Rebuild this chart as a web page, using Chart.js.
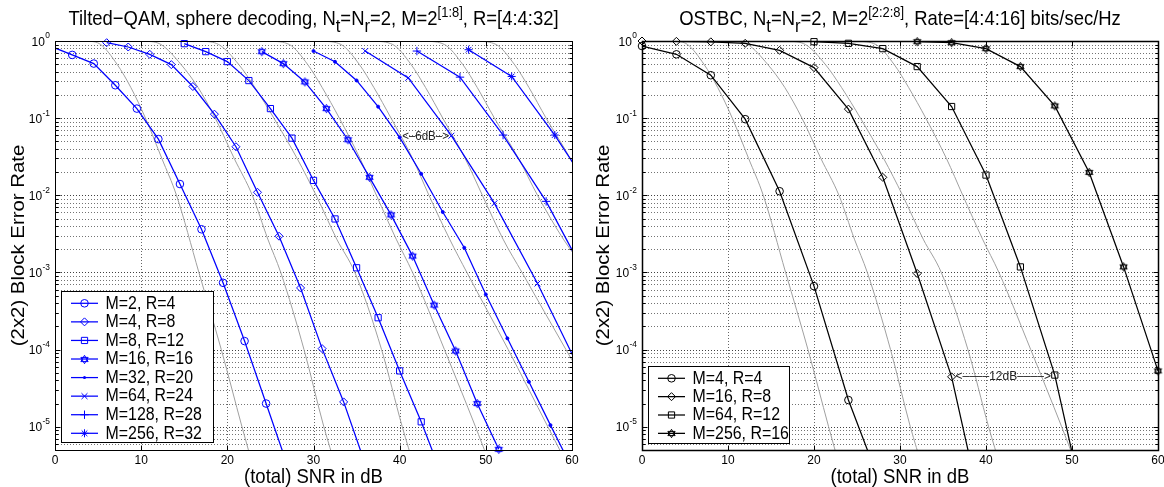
<!DOCTYPE html>
<html><head><meta charset="utf-8">
<script src="https://cdn.jsdelivr.net/npm/chart.js@4.4.1/dist/chart.umd.min.js"></script>
<style>
html,body{margin:0;padding:0;background:#fff;}
#wrap{position:relative;width:1164px;height:487px;overflow:hidden;background:#fff;}
canvas{position:absolute;top:0;}
</style></head><body>
<div id="wrap"><canvas id="cL" width="582" height="487" style="left:0"></canvas><canvas id="cR" width="582" height="487" style="left:582px"></canvas></div>
<script>
// ================= DATA =================
const xTickValues = [0, 10, 20, 30, 40, 50, 60];
const yTickExponents = [0, -1, -2, -3, -4, -5];

// ---- Left: Tilted-QAM, sphere decoding ----
const leftLabels = ['M=2, R=4', 'M=4, R=8', 'M=8, R=12', 'M=16, R=16', 'M=32, R=20', 'M=64, R=24', 'M=128, R=28', 'M=256, R=32'];
const snrM2 = [-0.5, 2, 4.5, 7, 9.5, 12, 14.5, 17, 19.5, 22, 24.5, 27];
const berM2 = [0.855, 0.66, 0.51, 0.267, 0.133, 0.0535, 0.014, 0.00363, 7.35e-4, 1.29e-4, 2.0e-5, 3.1e-6];
const snrM4 = [6, 8.5, 11, 13.5, 16, 18.5, 21, 23.5, 26, 28.5, 31, 33.5, 36];
const berM4 = [0.951, 0.836, 0.672, 0.494, 0.257, 0.1127, 0.0426, 0.01094, 0.00295, 6.3e-4, 1.03e-4, 2.1e-5, 3.3e-6];
const snrM8 = [15, 17.5, 20, 22.5, 25, 27.5, 30, 32.5, 35, 37.5, 40, 42.5, 45];
const berM8 = [0.924, 0.728, 0.541, 0.307, 0.133, 0.0551, 0.0156, 0.00494, 1.15e-3, 2.59e-4, 5.3e-5, 1.16e-5, 2.2e-6];
const snrM16 = [24, 26.5, 29, 31.5, 34, 36.5, 39, 41.5, 44, 46.5, 49, 51.5];
const berM16 = [0.728, 0.509, 0.295, 0.133, 0.0525, 0.0171, 0.00557, 1.63e-3, 3.78e-4, 9.6e-5, 2.0e-5, 5.1e-6];
const snrM32 = [30, 32.5, 35, 37.5, 40, 42.5, 45, 47.5, 50, 52.5, 55, 57.5, 60];
const berM32 = [0.741, 0.538, 0.308, 0.141, 0.0563, 0.019, 0.00607, 0.00209, 5.19e-4, 1.4e-4, 3.83e-5, 1.05e-5, 2.9e-6];
const snrM64 = [36, 41, 46, 51, 56, 61];
const berM64 = [0.741, 0.333, 0.0592, 0.00787, 7.2e-4, 5.2e-5];
const snrM128 = [42, 47, 52, 57, 62];
const berM128 = [0.741, 0.34, 0.0604, 0.00835, 7.5e-4];
const snrM256 = [48, 53, 58, 63];
const berM256 = [0.771, 0.347, 0.0604, 0.0085];

// grey reference curves (shared by both panels for R=4..16)
const gR4x  = [0, 3.8, 5.3, 7.2, 8.8, 10.5, 12.4, 14.1, 16.7, 19.3, 21.7, 23.0];
const gR4y  = [1.0, 0.99, 0.9, 0.5, 0.25, 0.1, 0.03, 0.01, 1e-3, 1e-4, 1e-5, 3e-6];
const gR8x  = [7.5, 10.5, 12.3, 14.6, 16.6, 18.6, 20.8, 22.9, 24.7, 26.2, 28.9, 31.2, 32.6];
const gR8y  = [1.0, 0.99, 0.9, 0.5, 0.25, 0.1, 0.03, 0.01, 2.7e-3, 1e-3, 1e-4, 1e-5, 3e-6];
const gR12x = [14, 17, 19, 21.3, 23.2, 25.4, 28.1, 30.3, 32.7, 34.8, 37.9, 40.3, 41.7];
const gR12y = [1.0, 0.99, 0.9, 0.5, 0.25, 0.1, 0.03, 0.01, 2.7e-3, 1e-3, 1e-4, 1e-5, 3e-6];
const gR16x = [22, 25, 27.2, 29.3, 31, 33, 35.4, 37.3, 39.6, 41.5, 45.2, 48.8, 50.6];
const gR16y = [1.0, 0.99, 0.9, 0.5, 0.25, 0.1, 0.03, 0.01, 2.7e-3, 1e-3, 1e-4, 1e-5, 3e-6];
const gR20x = [28, 31, 33.2, 35.3, 37, 39, 41.5, 43.4, 45.8, 47.8, 52.6, 57.2, 59.6];
const gR20y = [1.0, 0.99, 0.9, 0.5, 0.25, 0.1, 0.03, 0.01, 2.7e-3, 1e-3, 1e-4, 1e-5, 3e-6];
const gR24x = [34, 37, 39.2, 41.3, 43, 45, 47.6, 49.6, 52, 54.2, 59.3, 64.5];
const gR24y = [1.0, 0.99, 0.9, 0.5, 0.25, 0.1, 0.03, 0.01, 2.7e-3, 1e-3, 1e-4, 1e-5];
const gR28x = [40, 43, 45.2, 47.3, 49, 51, 53.8, 56, 59, 61.8];
const gR28y = [1.0, 0.99, 0.9, 0.5, 0.25, 0.1, 0.03, 0.01, 2.7e-3, 1e-3];
const gR32x = [46, 49, 51.2, 53.3, 55, 57, 59.8, 62];
const gR32y = [1.0, 0.99, 0.9, 0.5, 0.25, 0.1, 0.03, 0.01];

// ---- Right: OSTBC ----
const rightLabels = ['M=4, R=4', 'M=16, R=8', 'M=64, R=12', 'M=256, R=16'];
const snrO4 = [0, 4, 8, 12, 16, 20, 24, 28];
const berO4 = [0.861, 0.672, 0.36, 0.097, 0.0113, 6.65e-4, 2.22e-5, 1.5e-6];
const snrO16 = [0, 4, 8, 12, 16, 20, 24, 28, 32, 36, 40];
const berO16 = [1.0, 0.99, 0.975, 0.933, 0.757, 0.452, 0.131, 0.0171, 9.7e-4, 4.44e-5, 4.5e-7];
const snrO64 = [20, 24, 28, 32, 36, 40, 44, 48, 52];
const berO64 = [0.98, 0.933, 0.796, 0.466, 0.1415, 0.0183, 1.18e-3, 4.68e-5, 4.7e-7];
const snrO256 = [32, 36, 40, 44, 48, 52, 56, 60];
const berO256 = [0.98, 0.951, 0.796, 0.466, 0.144, 0.0198, 1.18e-3, 5.3e-5];

// ================= PRESENTATION =================
const FONT = '"Liberation Sans", Arial, Helvetica, sans-serif';
const VS = 1.1;             // vertical stretch of text glyphs
const X_MIN = 0, X_MAX = 60, Y_MIN = 5e-6, Y_MAX = 1;
const SUB_SCALE = 0.9, SUB_DY = 0.36, SUP_SCALE = 0.7, SUP_DY = 0.42;

const mctx = document.createElement('canvas').getContext('2d');
function fitSize(text, target) { mctx.font = '100px ' + FONT; return 100 * target / mctx.measureText(text).width; }
function segSize(m, size) { return m === 0 ? size : (m < 0 ? size * SUB_SCALE : size * SUP_SCALE); }
function richWidth(segs, size) {
  let w = 0;
  for (const [t, m] of segs) { mctx.font = segSize(m, size) + 'px ' + FONT; w += mctx.measureText(t).width; }
  return w;
}
function stretchText(ctx, t, x, y) {
  ctx.save(); ctx.translate(x, y); ctx.scale(1, VS); ctx.fillText(t, 0, 0); ctx.restore();
}
function drawRich(ctx, segs, cx, baseY, size) {
  const w = richWidth(segs, size);
  let x = cx - w / 2;
  ctx.textAlign = 'left'; ctx.textBaseline = 'alphabetic';
  for (const [t, m] of segs) {
    const s = segSize(m, size);
    const dy = m === 0 ? 0 : (m < 0 ? size * SUB_DY : -size * SUP_DY);
    ctx.font = s + 'px ' + FONT;
    stretchText(ctx, t, x, baseY + dy);
    x += ctx.measureText(t).width;
  }
}

function makeHexagram(color, r) {
  const c = document.createElement('canvas');
  const s = Math.ceil(2 * r + 4); c.width = s; c.height = s;
  const g = c.getContext('2d'); g.strokeStyle = color; g.lineWidth = 1;
  const cx = s / 2, cy = s / 2;
  for (const off of [-90, 90]) {
    g.beginPath();
    for (let k = 0; k < 3; k++) {
      const a = (off + k * 120) * Math.PI / 180;
      const px = cx + r * Math.cos(a), py = cy + r * Math.sin(a);
      if (k === 0) g.moveTo(px, py); else g.lineTo(px, py);
    }
    g.closePath(); g.stroke();
  }
  return c;
}

function drawMarker(ctx, m, x, y, color) {
  ctx.save(); ctx.strokeStyle = color; ctx.fillStyle = color; ctx.lineWidth = 1;
  const r = m.r;
  ctx.beginPath();
  switch (m.style) {
    case 'circle': ctx.arc(x, y, r, 0, 2 * Math.PI); ctx.stroke(); break;
    case 'dot': ctx.arc(x, y, r, 0, 2 * Math.PI); ctx.fill(); break;
    case 'rectRot': ctx.moveTo(x - r, y); ctx.lineTo(x, y - r); ctx.lineTo(x + r, y); ctx.lineTo(x, y + r); ctx.closePath(); ctx.stroke(); break;
    case 'rect': { const s = Math.SQRT1_2 * r; ctx.rect(x - s, y - s, 2 * s, 2 * s); ctx.stroke(); break; }
    case 'cross': ctx.moveTo(x - r, y); ctx.lineTo(x + r, y); ctx.moveTo(x, y - r); ctx.lineTo(x, y + r); ctx.stroke(); break;
    case 'crossRot': { const d = r * Math.SQRT1_2; ctx.moveTo(x - d, y - d); ctx.lineTo(x + d, y + d); ctx.moveTo(x + d, y - d); ctx.lineTo(x - d, y + d); ctx.stroke(); break; }
    case 'star': { const d = r * Math.SQRT1_2; ctx.moveTo(x - r, y); ctx.lineTo(x + r, y); ctx.moveTo(x, y - r); ctx.lineTo(x, y + r);
      ctx.moveTo(x - d, y - d); ctx.lineTo(x + d, y + d); ctx.moveTo(x + d, y - d); ctx.lineTo(x - d, y + d); ctx.stroke(); break; }
    case 'hex': { const img = makeHexagram(color, r); ctx.drawImage(img, Math.round(x - img.width / 2), Math.round(y - img.height / 2)); break; }
  }
  ctx.restore();
}

function pts(xs, ys) { return xs.map((x, i) => ({ x: x, y: ys[i] })); }
function inRange(p) { return p.x >= X_MIN - 1e-9 && p.x <= X_MAX + 1e-9 && p.y >= Y_MIN * 0.97 && p.y <= Y_MAX * 1.001; }

function buildDatasets(series, greys, color) {
  const ds = [];
  series.forEach(s => {
    const data = pts(s.x, s.y);
    ds.push({ data, borderColor: color, borderWidth: 1.25, pointRadius: 0, showLine: true, fill: false, order: 2 });
    const m = s.marker;
    let ps = m.style, bg = 'rgba(0,0,0,0)';
    if (m.style === 'hex') ps = makeHexagram(color, m.r);
    if (m.style === 'dot') { ps = 'circle'; bg = color; }
    ds.push({ data: data.filter(inRange), showLine: false, pointStyle: ps, pointRadius: m.r, pointBorderWidth: 1,
      pointBorderColor: color, pointBackgroundColor: bg, clip: false, order: 1 });
  });
  greys.forEach(g => {
    ds.push({ data: pts(g[0], g[1]), borderColor: '#a0a0a0', borderWidth: 1, pointRadius: 0, showLine: true,
      cubicInterpolationMode: 'monotone', fill: false, order: 3 });
  });
  return ds;
}

function makeChart(canvasId, cfg) {
  const plugin = {
    id: 'frame_' + canvasId,
    beforeDatasetsDraw(chart) {
      const { ctx, chartArea: a, scales: { x, y } } = chart;
      ctx.save();
      ctx.lineWidth = 1;
      ctx.setLineDash([1, 2]);
      ctx.strokeStyle = 'rgba(0,0,0,0.6)';
      xTickValues.forEach(v => { if (v > X_MIN && v < X_MAX) { const px = Math.round(x.getPixelForValue(v)) + 0.5;
        ctx.beginPath(); ctx.moveTo(px, a.top); ctx.lineTo(px, a.bottom); ctx.stroke(); } });
      for (let e = -6; e <= 0; e++) for (let m = 1; m <= 9; m++) {
        const v = m * Math.pow(10, e);
        if (v <= Y_MIN * 1.0001 || v >= Y_MAX * 0.9999) continue;
        const py = Math.round(y.getPixelForValue(v)) + 0.5;
        ctx.strokeStyle = m === 1 ? 'rgba(0,0,0,0.75)' : 'rgba(0,0,0,0.55)';
        ctx.beginPath(); ctx.moveTo(a.left, py); ctx.lineTo(a.right, py); ctx.stroke();
      }
      ctx.restore();
    },
    afterDraw(chart) {
      const { ctx, chartArea: a, scales: { x, y } } = chart;
      ctx.save();
      ctx.strokeStyle = '#000'; ctx.lineWidth = cfg.boxWidth; ctx.setLineDash([]);
      const L = Math.round(a.left) + 0.5, R = Math.round(a.right) + 0.5, T = Math.round(a.top) + 0.5, B = Math.round(a.bottom) + 0.5;
      ctx.strokeRect(L, T, R - L, B - T);
      ctx.lineWidth = 1;
      xTickValues.forEach(v => { const px = Math.round(x.getPixelForValue(v)) + 0.5;
        ctx.beginPath(); ctx.moveTo(px, B); ctx.lineTo(px, B - 5); ctx.moveTo(px, T); ctx.lineTo(px, T + 5); ctx.stroke(); });
      for (let e = -6; e <= 0; e++) for (let m = 1; m <= 9; m++) {
        const v = m * Math.pow(10, e);
        if (v < Y_MIN * 0.9999 || v > Y_MAX * 1.0001) continue;
        const py = Math.round(y.getPixelForValue(v)) + 0.5; const len = m === 1 ? 5 : 3;
        ctx.beginPath(); ctx.moveTo(L, py); ctx.lineTo(L + len, py); ctx.moveTo(R, py); ctx.lineTo(R - len, py); ctx.stroke();
      }
      ctx.fillStyle = '#000';
      ctx.font = cfg.tickSize + 'px ' + FONT; ctx.textAlign = 'center'; ctx.textBaseline = 'middle';
      xTickValues.forEach(v => stretchText(ctx, String(v), x.getPixelForValue(v), 460));
      yTickExponents.forEach(e => {
        const py = y.getPixelForValue(Math.pow(10, e));
        const ex = e === 0 ? '0' : '-' + String(-e);
        ctx.font = (cfg.tickSize * 0.7) + 'px ' + FONT; const we = ctx.measureText(ex).width;
        ctx.font = cfg.tickSize + 'px ' + FONT; const wb = ctx.measureText('10').width;
        const xr = a.left - 5;
        ctx.textAlign = 'left'; ctx.textBaseline = 'alphabetic';
        stretchText(ctx, '10', xr - we - wb - 0.5, py + cfg.tickSize * 0.38);
        ctx.font = (cfg.tickSize * 0.7) + 'px ' + FONT;
        stretchText(ctx, ex, xr - we, py - cfg.tickSize * 0.22);
      });
      ctx.font = cfg.axisSize + 'px ' + FONT; ctx.textAlign = 'center'; ctx.textBaseline = 'middle';
      stretchText(ctx, '(total) SNR in dB', (a.left + a.right) / 2, 477);
      ctx.save(); ctx.translate(cfg.ylabelX, (a.top + a.bottom) / 2); ctx.rotate(-Math.PI / 2);
      ctx.scale(VS, 1.04); ctx.fillText('(2x2) Block Error Rate', 0, 0); ctx.restore();
      drawRich(ctx, cfg.title, (a.left + a.right) / 2, cfg.titleBase, cfg.titleSize);
      const an = cfg.annotation;
      ctx.font = an.size + 'px ' + FONT; ctx.textAlign = 'center'; ctx.textBaseline = 'middle'; ctx.fillStyle = an.color;
      stretchText(ctx, an.text, x.getPixelForValue(an.x), y.getPixelForValue(an.y));
      const lg = cfg.legend;
      ctx.fillStyle = '#fff'; ctx.fillRect(lg.x0, lg.y0, lg.x1 - lg.x0, lg.y1 - lg.y0);
      ctx.strokeStyle = '#000'; ctx.lineWidth = 1; ctx.strokeRect(lg.x0 + 0.5, lg.y0 + 0.5, lg.x1 - lg.x0, lg.y1 - lg.y0);
      cfg.series.forEach((s, i) => {
        const yy = lg.firstY + i * lg.step;
        ctx.strokeStyle = cfg.color; ctx.lineWidth = 1.25;
        ctx.beginPath(); ctx.moveTo(lg.x0 + 10, yy); ctx.lineTo(lg.x0 + 37, yy); ctx.stroke();
        drawMarker(ctx, s.marker, lg.x0 + 23.5, yy, cfg.color);
        ctx.fillStyle = '#000'; ctx.font = cfg.legendSize + 'px ' + FONT; ctx.textAlign = 'left'; ctx.textBaseline = 'middle';
        stretchText(ctx, s.label, lg.x0 + 44.5, yy + 0.5);
      });
      ctx.restore();
    }
  };
  const chart = new Chart(document.getElementById(canvasId), {
    type: 'line',
    data: { datasets: buildDatasets(cfg.series, cfg.greys, cfg.color) },
    options: {
      responsive: false, animation: false, devicePixelRatio: 1,
      layout: { padding: { left: cfg.area.l, top: cfg.area.t, right: 582 - cfg.area.r, bottom: 487 - cfg.area.b } },
      plugins: { legend: { display: false }, title: { display: false }, tooltip: { enabled: false } },
      scales: {
        x: { type: 'linear', min: X_MIN, max: X_MAX, display: false },
        y: { type: 'logarithmic', min: Y_MIN, max: Y_MAX, display: false }
      }
    },
    plugins: [plugin]
  });
  for (let k = 0; k < 2; k++) {
    const a = chart.chartArea, p = chart.options.layout.padding;
    p.left += cfg.area.l - a.left; p.top += cfg.area.t - a.top;
    p.right += a.right - cfg.area.r; p.bottom += a.bottom - cfg.area.b;
    chart.update('none');
  }
  return chart;
}

const titleL = [['Tilted\u2212QAM, sphere decoding, N', 0], ['t', -1], ['=N', 0], ['r', -1], ['=2, M=2', 0], ['[1:8]', 1], [', R=[4:4:32]', 0]];
const titleR = [['OSTBC, N', 0], ['t', -1], ['=N', 0], ['r', -1], ['=2, M=2', 0], ['[2:2:8]', 1], [', Rate=[4:4:16] bits/sec/Hz', 0]];

const titleSize = 16.3 * 490 / richWidth(titleL, 16.3);
const legendSize = fitSize('M=256, R=32', 96.5);
const axisSize = fitSize('(total) SNR in dB', 139);

makeChart('cL', {
  area: { l: 55, t: 41, r: 572, b: 450 }, color: '#0000ff', boxWidth: 1,
  tickSize: 12, axisSize, titleSize, titleBase: 25, title: titleL, ylabelX: 19, legendSize,
  series: [
    { label: leftLabels[0], x: snrM2, y: berM2, marker: { style: 'circle', r: 3.8 } },
    { label: leftLabels[1], x: snrM4, y: berM4, marker: { style: 'rectRot', r: 4 } },
    { label: leftLabels[2], x: snrM8, y: berM8, marker: { style: 'rect', r: 4.4 } },
    { label: leftLabels[3], x: snrM16, y: berM16, marker: { style: 'hex', r: 4.2 } },
    { label: leftLabels[4], x: snrM32, y: berM32, marker: { style: 'dot', r: 1.5 } },
    { label: leftLabels[5], x: snrM64, y: berM64, marker: { style: 'crossRot', r: 4.2 } },
    { label: leftLabels[6], x: snrM128, y: berM128, marker: { style: 'cross', r: 4.2 } },
    { label: leftLabels[7], x: snrM256, y: berM256, marker: { style: 'star', r: 4 } }
  ],
  greys: [[gR4x, gR4y], [gR8x, gR8y], [gR12x, gR12y], [gR16x, gR16y], [gR20x, gR20y], [gR24x, gR24y], [gR28x, gR28y], [gR32x, gR32y]],
  legend: { x0: 61, x1: 213, y0: 291, y1: 442, firstY: 303.3, step: 18.57 },
  annotation: { text: '<\u20136dB\u2013>', x: 43, y: 0.058, size: 11.5, color: '#222' }
});

makeChart('cR', {
  area: { l: 60, t: 41, r: 576, b: 450 }, color: '#000000', boxWidth: 1.5,
  tickSize: 12, axisSize, titleSize, titleBase: 25, title: titleR, ylabelX: 22, legendSize,
  series: [
    { label: rightLabels[0], x: snrO4, y: berO4, marker: { style: 'circle', r: 3.8 } },
    { label: rightLabels[1], x: snrO16, y: berO16, marker: { style: 'rectRot', r: 4 } },
    { label: rightLabels[2], x: snrO64, y: berO64, marker: { style: 'rect', r: 4.4 } },
    { label: rightLabels[3], x: snrO256, y: berO256, marker: { style: 'hex', r: 4.2 } }
  ],
  greys: [[gR4x, gR4y], [gR8x, gR8y], [gR12x, gR12y], [gR16x, gR16y]],
  legend: { x0: 66, x1: 207, y0: 366, y1: 443, firstY: 378.3, step: 18.35 },
  annotation: { text: '<\u2013\u2013\u2013\u201312dB\u2013\u2013\u2013\u2013>', x: 42, y: 4.5e-5, size: 12, color: '#222' }
});
</script>
</body></html>
